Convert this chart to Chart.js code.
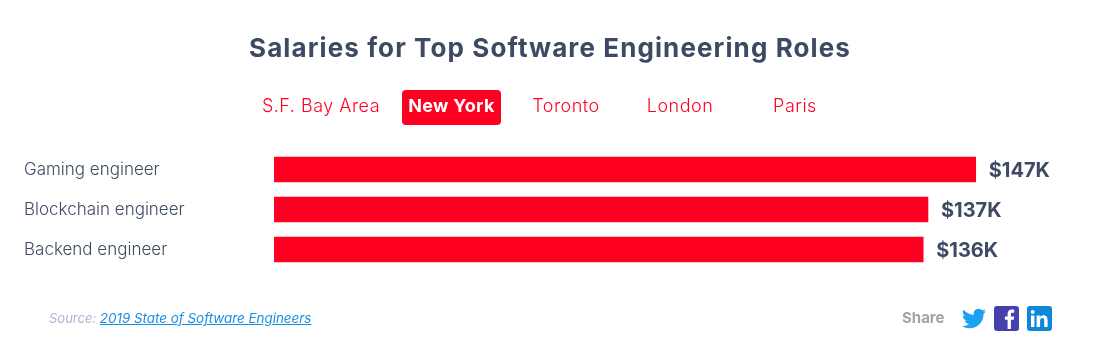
<!DOCTYPE html>
<html>
<head>
<meta charset="utf-8">
<title>Salaries for Top Software Engineering Roles</title>
<script src="https://cdn.jsdelivr.net/npm/chart.js@4"></script>
<style>
  html, body { margin: 0; padding: 0; background: #fff; }
  body { width: 1098px; height: 362px; position: relative; overflow: hidden; font-family: Inter, sans-serif; color: #3e4a63; }
  #chartBox { position: absolute; left: 0; top: 0; width: 1098px; height: 362px; }
  h1 { position: absolute; left: 0; width: 1100px; top: 31px; margin: 0; text-align: center; font-size: 26px; line-height: 34px; font-weight: 700; letter-spacing: 1.1px; }
  .tab { position: absolute; top: 90px; height: 35px; line-height: 32px; text-align: center; font-size: 18px; letter-spacing: 0.5px; color: #ff0022; border-radius: 4px; font-weight: 300; white-space: nowrap; }
  .tab.active { background: #ff0022; color: #fff; font-weight: 700; letter-spacing: 0.3px; }
  #source { position: absolute; left: 49px; top: 310px; font-size: 13px; line-height: 17px; font-style: italic; color: #a9b7cf; }
  #source a { color: #1b8fe0; font-size: 13.4px; }
  #share { position: absolute; left: 902px; top: 309px; font-size: 15px; line-height: 18px; font-weight: 700; color: #a3a3a3; }
  .icon { position: absolute; top: 306px; width: 25px; height: 25px; }
</style>
</head>
<body>
<div id="chartBox"><canvas id="salaryChart"></canvas></div>
<h1>Salaries for Top Software Engineering Roles</h1>
<div id="tabs"></div>
<div id="source">Source: <a href="#">2019 State of Software Engineers</a></div>
<div id="share">Share</div>
<svg class="icon" style="left:962px;width:24px" viewBox="0 0 24 24"><path fill="#1da1f2" d="M23.95 4.57a10 10 0 0 1-2.82.77 4.96 4.96 0 0 0 2.16-2.72c-.95.55-2 .96-3.12 1.19a4.92 4.92 0 0 0-8.38 4.48C7.69 8.1 4.07 6.13 1.64 3.16a4.82 4.82 0 0 0-.67 2.48c0 1.71.87 3.21 2.19 4.1a4.9 4.9 0 0 1-2.23-.62v.06a4.92 4.92 0 0 0 3.95 4.83c-.72.2-1.49.22-2.22.08a4.93 4.93 0 0 0 4.6 3.42A9.87 9.87 0 0 1 0 19.54a13.94 13.94 0 0 0 7.55 2.21c9.06 0 14-7.5 14-13.98 0-.21 0-.42-.02-.63a9.94 9.94 0 0 0 2.46-2.55z"/></svg>
<svg class="icon" style="left:994px" viewBox="0 0 25 25"><rect width="25" height="25" rx="3" fill="#4440b0"/><path fill="#fff" d="M13.6 23v-9.2h-2.7v-3.3h2.7V8c0-3 1.8-4.4 4.3-4.4 1.2 0 2 .1 2.3.1v3h-1.7c-1.4 0-1.6.7-1.6 1.6v2.2h3.3l-.5 3.3h-2.8V23z"/></svg>
<svg class="icon" style="left:1027px" viewBox="0 0 25 25"><rect width="25" height="25" rx="3" fill="#0f87d8"/><path fill="#fff" d="M4 9.5h3.4V21H4zM5.7 4a2 2 0 1 1 0 4 2 2 0 0 1 0-4zM9.6 9.5h3.2v1.6c.5-.9 1.7-1.9 3.5-1.9 3.6 0 4.3 2.4 4.3 5.5V21h-3.4v-5.9c0-1.400-.1-3-1.900-3s-2.200 1.400-2.200 2.900v6H9.600z"/></svg>

<script>
const cities = ['S.F. Bay Area', 'New York', 'Toronto', 'London', 'Paris'];
const activeCity = 'New York';
const roles = ['Gaming engineer', 'Blockchain engineer', 'Backend engineer'];
const salaries = [147, 137, 136];

const red = '#ff0022';
const textColor = '#3e4a63';

// tab boxes, same order as cities
const tabLefts = [258, 402, 516, 630, 745];
const tabWidths = [126, 99, 100, 100, 100];

const tabsEl = document.getElementById('tabs');
cities.forEach((city, i) => {
    const tab = document.createElement('div');
    tab.className = city === activeCity ? 'tab active' : 'tab';
    tab.style.left = tabLefts[i] + 'px';
    tab.style.width = tabWidths[i] + 'px';
    tab.textContent = city;
    tabsEl.appendChild(tab);
});

const valueLabels = {
    id: 'valueLabels',
    afterDatasetsDraw(chart) {
        const ctx = chart.ctx;
        ctx.save();
        ctx.font = '700 20px Inter, sans-serif';
        ctx.fillStyle = textColor;
        ctx.textBaseline = 'middle';
        chart.getDatasetMeta(0).data.forEach((bar, i) => {
            ctx.fillText('$' + salaries[i] + 'K', bar.x + 13, bar.y + 1);
        });
        ctx.restore();
    }
};

new Chart(document.getElementById('salaryChart'), {
    type: 'bar',
    data: {
        labels: roles,
        datasets: [{
            data: salaries,
            backgroundColor: red,
            barThickness: 25
        }]
    },
    options: {
        indexAxis: 'y',
        responsive: true,
        maintainAspectRatio: false,
        animation: false,
        layout: { padding: { left: 24, right: 60, top: 149.5, bottom: 92.5 } },
        plugins: { legend: { display: false }, tooltip: { enabled: false } },
        scales: {
            x: {
                display: false,
                min: 0,
                max: 160.05
            },
            y: {
                afterFit: (scale) => { scale.width = 250; },
                border: { display: false },
                grid: { display: false },
                ticks: {
                    crossAlign: 'far',
                    color: textColor,
                    font: { family: 'Inter, sans-serif', size: 17, weight: 300 }
                }
            }
        }
    },
    plugins: [valueLabels]
});
</script>
</body>
</html>
